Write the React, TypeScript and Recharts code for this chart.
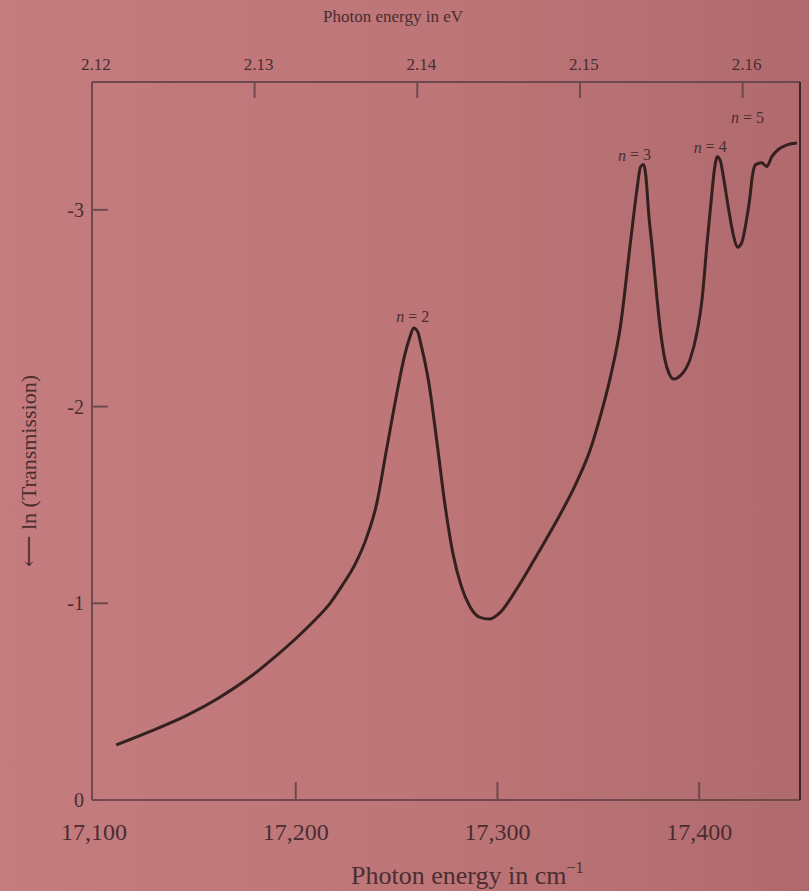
import React from 'react';
import { LineChart, Line, XAxis, YAxis, ReferenceDot, Label } from 'recharts';

// photon energy (cm^-1) and ln(Transmission)
const wavenumber = [
    17111, 17127, 17146, 17162, 17178, 17190, 17201, 17209, 17217, 17223,
    17229, 17235, 17240, 17245, 17250, 17254, 17256.5, 17258.5, 17260.5, 17262,
    17266, 17270, 17274, 17278, 17282, 17286, 17291, 17296, 17301, 17310,
    17321, 17331, 17339, 17346, 17351, 17356, 17361, 17366, 17369, 17371,
    17372.5, 17373.5, 17375, 17377, 17379, 17381, 17383, 17385, 17387.5, 17391,
    17395.5, 17399, 17401.5, 17404, 17406, 17407.5, 17409, 17410.5, 17412, 17414.5,
    17417, 17419, 17421, 17423, 17425, 17426.5, 17428, 17431, 17433.5, 17436,
    17438.5, 17443.5, 17448.5,
];
const lnTransmission = [
    -0.28, -0.345, -0.43, -0.52, -0.63, -0.73, -0.83, -0.91, -1.0, -1.09,
    -1.19, -1.33, -1.5, -1.78, -2.06, -2.26, -2.35, -2.4, -2.38, -2.32,
    -2.12, -1.82, -1.5, -1.25, -1.09, -0.99, -0.93, -0.92, -0.95, -1.08,
    -1.27, -1.45, -1.61, -1.78, -1.95, -2.15, -2.41, -2.84, -3.09, -3.22,
    -3.23, -3.18, -2.98, -2.78, -2.56, -2.37, -2.24, -2.17, -2.14, -2.16,
    -2.24, -2.38, -2.55, -2.84, -3.05, -3.2, -3.27, -3.25, -3.17, -3.01,
    -2.87, -2.81, -2.83, -2.92, -3.05, -3.18, -3.23, -3.24, -3.22, -3.27,
    -3.3, -3.33, -3.34,
];

// exciton line labels
const peakNames = ['2', '3', '4', '5'];
const peakLabelX = [17258, 17368, 17405.5, 17424];
const peakLabelY = [-2.46, -3.28, -3.32, -3.47];

const bottomTicks = [17100, 17200, 17300, 17400];
const evTicks = [2.12, 2.13, 2.14, 2.15, 2.16];
const yTicks = [0, -1, -2, -3];

const EV_TO_CM = 8065.54;
const X_DOMAIN = [17099, 17450];
const Y_DOMAIN = [-3.65, 0];

const data = wavenumber.map((x, i) => ({ x, lnT: lnTransmission[i] }));
const topTicks = evTicks.map((ev) => ev * EV_TO_CM);

const INK = '#4a2d31';
const AXIS = '#6e4a4f';
const CURVE = '#33201f';
const SERIF = '"Liberation Serif", "DejaVu Serif", serif';

const BottomTick = ({ x, y, payload }: any) => (
    <g>
        {payload.value !== 17100 && (
            <line x1={x} y1={y} x2={x} y2={y - 18} stroke={AXIS} strokeWidth={2} />
        )}
        <text x={x} y={y + 40} textAnchor="middle" fontSize={24} fill={INK} fontFamily={SERIF}>
            {payload.value.toLocaleString('en-US')}
        </text>
    </g>
);

const TopTick = ({ x, y, payload }: any) => (
    <g>
        {payload.value > X_DOMAIN[0] + 1 && (
            <line x1={x} y1={y} x2={x} y2={y + 16} stroke={AXIS} strokeWidth={2} />
        )}
        <text x={x + 4} y={y - 12} textAnchor="middle" fontSize={17} fill={INK} fontFamily={SERIF}>
            {(payload.value / EV_TO_CM).toFixed(2)}
        </text>
    </g>
);

const LeftTick = ({ x, y, payload }: any) => (
    <g>
        {payload.value !== 0 && (
            <line x1={x} y1={y} x2={x + 16} y2={y} stroke={AXIS} strokeWidth={2} />
        )}
        <text x={x - 8} y={y} textAnchor="end" dominantBaseline="central" fontSize={20} fill={INK} fontFamily={SERIF}>
            {payload.value === 0 ? '0' : `-${Math.abs(payload.value)}`}
        </text>
    </g>
);

const PeakLabel = ({ cx, cy, name }: any) => (
    <text x={cx} y={cy} textAnchor="middle" dominantBaseline="central" fontSize={16} fill={INK} fontFamily={SERIF}>
        <tspan fontStyle="italic">n</tspan> = {name}
    </text>
);

const App: React.FC = () => {
    return (
        <div
            style={{
                position: 'absolute',
                left: 0,
                top: 0,
                width: 809,
                height: 891,
                background: 'linear-gradient(90deg, #c47c7e 0%, #bd7577 55%, #b06a6e 100%)',
            }}
        >
            <LineChart width={809} height={891} data={data} margin={{ top: 0, right: 0, bottom: 0, left: 0 }}>
                <XAxis
                    dataKey="x"
                    type="number"
                    domain={X_DOMAIN}
                    ticks={bottomTicks}
                    interval={0}
                    height={91}
                    tickSize={0}
                    tickMargin={0}
                    tick={<BottomTick />}
                    axisLine={{ stroke: AXIS, strokeWidth: 2 }}
                    allowDataOverflow
                >
                    <Label
                        content={({ viewBox }: any) => (
                            <text
                                x={viewBox.x + viewBox.width * 0.53}
                                y={viewBox.y + 84}
                                textAnchor="middle"
                                fontSize={26}
                                fill={INK}
                                fontFamily={SERIF}
                            >
                                <tspan>Photon energy in cm</tspan>
                                <tspan dy={-11} fontSize={16}>−1</tspan>
                            </text>
                        )}
                    />
                </XAxis>
                <XAxis
                    xAxisId="top"
                    orientation="top"
                    dataKey="x"
                    type="number"
                    domain={X_DOMAIN}
                    ticks={topTicks}
                    interval={0}
                    height={82}
                    tickSize={0}
                    tickMargin={0}
                    tick={<TopTick />}
                    axisLine={{ stroke: AXIS, strokeWidth: 2 }}
                    allowDataOverflow
                >
                    <Label
                        content={() => (
                            <text x={393} y={22} textAnchor="middle" fontSize={17} fill={INK} fontFamily={SERIF}>
                                Photon energy in eV
                            </text>
                        )}
                    />
                </XAxis>
                <YAxis
                    type="number"
                    domain={Y_DOMAIN}
                    reversed
                    ticks={yTicks}
                    interval={0}
                    width={92}
                    tickSize={0}
                    tickMargin={0}
                    tick={<LeftTick />}
                    axisLine={{ stroke: AXIS, strokeWidth: 2 }}
                    allowDataOverflow
                >
                    <Label
                        content={() => (
                            <text
                                x={28}
                                y={471}
                                transform="rotate(-90, 28, 471)"
                                textAnchor="middle"
                                dominantBaseline="central"
                                fontSize={22}
                                fill={INK}
                                fontFamily={SERIF}
                            >
                                ⟵ ln (Transmission)
                            </text>
                        )}
                    />
                </YAxis>
                <YAxis
                    yAxisId="right"
                    orientation="right"
                    type="number"
                    domain={Y_DOMAIN}
                    width={9}
                    tick={false}
                    tickLine={false}
                    axisLine={{ stroke: '#3d2528', strokeWidth: 2 }}
                />
                <Line
                    dataKey="lnT"
                    type="monotone"
                    stroke={CURVE}
                    strokeWidth={3}
                    dot={false}
                    isAnimationActive={false}
                />
                {peakNames.map((name, i) => (
                    <ReferenceDot
                        key={name}
                        x={peakLabelX[i]}
                        y={peakLabelY[i]}
                        r={0}
                        ifOverflow="visible"
                        shape={(props: any) => <PeakLabel {...props} name={name} />}
                    />
                ))}
            </LineChart>
        </div>
    );
};

export default App;
